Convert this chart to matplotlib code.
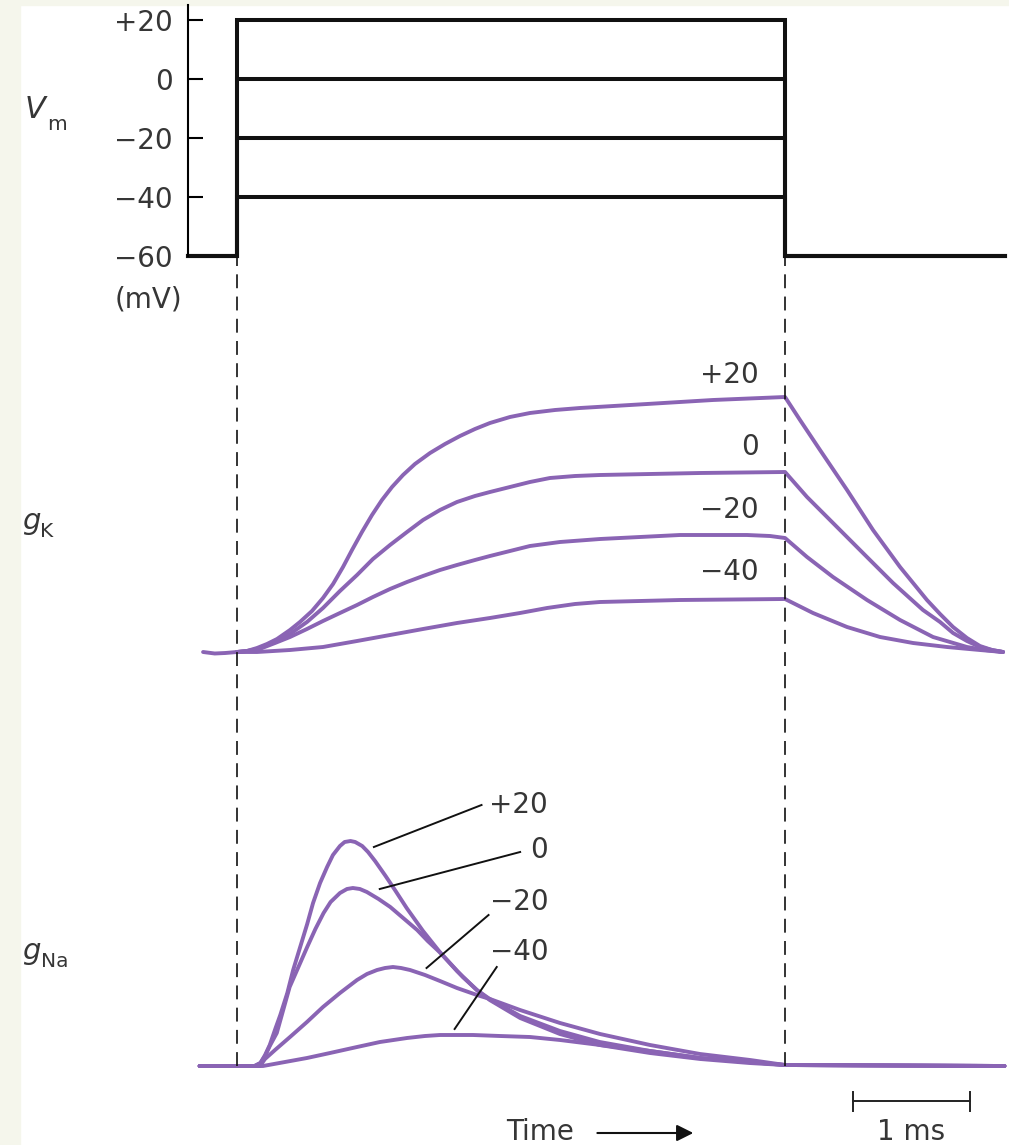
import numpy as np
import matplotlib
matplotlib.use('Agg')
import matplotlib.pyplot as plt
from matplotlib.patches import Rectangle

plt.rcParams.update({
    'font.family': ['DejaVu Sans'],
    'font.size': 20, 'lines.scale_dashes': False,
})

W, H = 1009, 1145
PURPLE = '#8a64b4'
INK = '#363636'
FS = 20

# ---- voltage-clamp protocol (ms, mV) ----
T_ON, T_OFF = 0.0, 4.684
T_START, T_END = -0.42, 6.56
V_HOLD = -60
V_STEPS = [20, 0, -20, -40]
V_TICKS = [20, 0, -20, -40, -60]
V_TICKLABELS = ['+20', '0', '\u221220', '\u221240', '\u221260']
STEP_LABELS = ['+20', '0', '\u221220', '\u221240']

# ---- gK traces (ms, arbitrary units), one per step ----
GK_PRE_T = [-0.29, -0.19, -0.10, 0.0]
GK_PRE_G = [0.0, -0.15, -0.1, 0.0]
GK_T = {
    20:  [0, 0.085, 0.171, 0.256, 0.342, 0.453, 0.538, 0.641, 0.735, 0.821, 0.906, 0.983, 1.068, 1.154, 1.239,
          1.325, 1.419, 1.521, 1.650, 1.778, 1.906, 2.034, 2.162, 2.333, 2.504, 2.718, 2.932, 3.504, 4.068, 4.684,
          4.812, 4.983, 5.214, 5.436, 5.667, 5.897, 6.009, 6.120, 6.239, 6.350, 6.453, 6.547],
    0:   [0, 0.085, 0.171, 0.282, 0.453, 0.598, 0.735, 0.880, 1.026, 1.162, 1.308, 1.453, 1.590, 1.735, 1.880,
          2.034, 2.162, 2.333, 2.504, 2.675, 2.889, 3.103, 3.957, 4.684,
          4.872, 5.094, 5.350, 5.607, 5.863, 6.009, 6.120, 6.239, 6.350, 6.453, 6.547],
    -20: [0, 0.171, 0.325, 0.453, 0.598, 0.735, 0.880, 1.026, 1.162, 1.308, 1.453, 1.590, 1.735, 1.880, 2.034,
          2.162, 2.333, 2.504, 2.761, 3.103, 3.444, 3.786, 4.359, 4.556, 4.684,
          4.872, 5.094, 5.385, 5.667, 5.949, 6.239, 6.393, 6.547],
    -40: [0, 0.171, 0.453, 0.735, 1.026, 1.308, 1.590, 1.880, 2.162, 2.419, 2.650, 2.889, 3.103, 3.444, 3.786, 4.684,
          4.923, 5.214, 5.496, 5.778, 6.068, 6.350, 6.547],
}
GK_G = {
    20:  [0, 0.1, 0.4, 0.8, 1.3, 2.2, 3.0, 4.1, 5.4, 6.8, 8.5, 10.2, 12.0, 13.7, 15.2,
          16.5, 17.7, 18.8, 19.9, 20.8, 21.6, 22.3, 22.9, 23.5, 23.9, 24.2, 24.4, 24.8, 25.2, 25.5,
          23.2, 20.2, 16.2, 12.2, 8.5, 5.2, 3.8, 2.5, 1.4, 0.6, 0.2, 0.0],
    0:   [0, 0.1, 0.3, 0.8, 1.8, 3.0, 4.4, 6.1, 7.7, 9.3, 10.7, 12.0, 13.2, 14.2, 15.0,
          15.6, 16.0, 16.5, 17.0, 17.4, 17.6, 17.7, 17.9, 18.0,
          15.5, 12.9, 9.9, 6.9, 4.2, 3.0, 1.9, 1.1, 0.5, 0.2, 0.0],
    -20: [0, 0.2, 0.9, 1.5, 2.3, 3.1, 3.9, 4.7, 5.5, 6.3, 7.0, 7.6, 8.2, 8.7, 9.2,
          9.6, 10.1, 10.6, 11.0, 11.3, 11.5, 11.7, 11.7, 11.6, 11.4,
          9.5, 7.5, 5.2, 3.2, 1.5, 0.5, 0.2, 0.0],
    -40: [0, 0, 0.2, 0.5, 1.1, 1.7, 2.3, 2.9, 3.4, 3.9, 4.4, 4.8, 5.0, 5.1, 5.2, 5.3,
          3.9, 2.5, 1.5, 0.9, 0.5, 0.2, 0.0],
}

# ---- gNa traces ----
GNA_T = {
    20:  [-0.32, 0.15, 0.20, 0.24, 0.28, 0.33, 0.37, 0.43, 0.48, 0.54, 0.60, 0.65, 0.71, 0.77, 0.82, 0.88, 0.92,
          0.97, 1.01, 1.07, 1.12, 1.18, 1.27, 1.35, 1.45, 1.59, 1.74, 1.88, 2.05, 2.16, 2.42, 2.76, 3.10, 3.53,
          3.96, 4.38, 4.68, 6.56],
    0:   [-0.32, 0.15, 0.20, 0.24, 0.28, 0.34, 0.45, 0.54, 0.60, 0.67, 0.74, 0.80, 0.88, 0.94, 0.99, 1.05, 1.11,
          1.21, 1.31, 1.42, 1.54, 1.63, 1.74, 1.93, 2.05, 2.16, 2.42, 2.76, 3.10, 3.53, 3.96, 4.38, 4.68, 6.56],
    -20: [-0.32, 0.197, 0.239, 0.325, 0.453, 0.598, 0.735, 0.880, 1.026, 1.111, 1.197, 1.265, 1.333, 1.402,
          1.479, 1.607, 1.735, 1.880, 2.051, 2.162, 2.419, 2.761, 3.103, 3.530, 3.957, 4.385, 4.684, 6.56],
    -40: [-0.32, 0.222, 0.410, 0.598, 0.795, 1.026, 1.222, 1.453, 1.607, 1.735, 2.017, 2.248, 2.504, 2.761,
          3.103, 3.530, 3.957, 4.385, 4.684, 6.56],
}
GNA_G = {
    20:  [0, 0, 0.3, 1.1, 2.1, 3.8, 5.1, 7.3, 9.6, 11.9, 14.2, 16.3, 18.3, 19.9, 21.1, 22.0, 22.4,
          22.5, 22.4, 22.0, 21.4, 20.5, 19.0, 17.6, 15.8, 13.5, 11.3, 9.5, 7.6, 6.6, 4.8, 3.2, 2.1, 1.3,
          0.7, 0.3, 0.1, 0],
    0:   [0, 0, 0.3, 1.0, 2.0, 3.3, 7.9, 10.3, 11.9, 13.7, 15.3, 16.4, 17.3, 17.7, 17.8, 17.7, 17.4,
          16.7, 15.9, 14.8, 13.6, 12.5, 11.3, 8.9, 7.6, 6.7, 5.0, 3.5, 2.4, 1.5, 0.8, 0.4, 0.1, 0],
    -20: [0, 0, 0.7, 1.6, 2.9, 4.4, 5.9, 7.3, 8.6, 9.2, 9.6, 9.8, 9.9, 9.8,
          9.6, 9.1, 8.5, 7.8, 7.1, 6.7, 5.6, 4.3, 3.2, 2.1, 1.2, 0.6, 0.1, 0],
    -40: [0, 0, 0.4, 0.8, 1.3, 1.9, 2.4, 2.8, 3.0, 3.1, 3.1, 3.0, 2.9, 2.6,
          2.1, 1.5, 0.8, 0.4, 0.1, 0],
}

fig = plt.figure(figsize=(W / 100, H / 100), dpi=100)
fig.patch.set_facecolor('white')
fig.patches.append(Rectangle((0, 0), 20 / W, 1, transform=fig.transFigure, color='#f5f6ec', zorder=-10))
fig.patches.append(Rectangle((0, 1 - 5 / H), 1, 5 / H, transform=fig.transFigure, color='#f5f6ec', zorder=-10))

XLIM = (-237 / 117, (W - 237) / 117)


def band(top, bottom):
    ax = fig.add_axes([0, 1 - bottom / H, 1, (bottom - top) / H])
    ax.set_xlim(*XLIM)
    ax.patch.set_alpha(0)
    return ax


# ---- Vm panel ----
axv = band(0, 300)
axv.set_ylim(-60 - 44 / 2.95, -60 + 256 / 2.95)
for s in ['top', 'right', 'bottom']:
    axv.spines[s].set_visible(False)
axv.spines['left'].set_position(('data', T_START))
axv.spines['left'].set_bounds(-60, 25)
axv.spines['left'].set_linewidth(1.5)
axv.set_xticks([])
axv.set_yticks(V_TICKS)
axv.set_yticklabels(V_TICKLABELS, color=INK)
axv.tick_params(axis='y', direction='in', length=11, width=1.5, pad=11, labelsize=FS)
for v in V_STEPS:
    axv.plot([T_START, T_ON, T_ON, T_OFF, T_OFF, T_END], [V_HOLD, V_HOLD, v, v, V_HOLD, V_HOLD],
             color='#111111', lw=2.9, solid_joinstyle='miter', clip_on=False)
fig.text(148 / W, 1 - 300 / H, '(mV)', ha='center', va='center', color=INK, fontsize=FS)

# ---- gK panel ----
axk = band(330, 690)
axk.set_ylim(-3.8, 32.2)
axk.axis('off')
axk.plot(GK_PRE_T, GK_PRE_G, color=PURPLE, lw=2.8, solid_capstyle='round')
for v in V_STEPS:
    axk.plot(GK_T[v], GK_G[v], color=PURPLE, lw=2.8, solid_capstyle='round', solid_joinstyle='round')
for lab, gy in zip(STEP_LABELS, [27.7, 20.5, 14.2, 8.0]):
    axk.text(4.46, gy, lab, ha='right', va='center', color=INK, fontsize=FS)

# ---- gNa panel ----
axn = band(760, 1145)
axn.set_ylim(-7.9, 30.6)
axn.axis('off')
for v in V_STEPS:
    axn.plot(GNA_T[v], GNA_G[v], color=PURPLE, lw=2.8, solid_capstyle='round', solid_joinstyle='round')
leaders = [((1.17, 21.9), (2.09, 26.1)), ((1.22, 17.7), (2.42, 21.4)),
           ((1.62, 9.8), (2.15, 15.1)), ((1.86, 3.7), (2.22, 9.9))]
for lab, gy, ((x0, y0), (x1, y1)) in zip(STEP_LABELS, [26.1, 21.6, 16.4, 11.4], leaders):
    axn.text(2.66, gy, lab, ha='right', va='center', color=INK, fontsize=FS)
    axn.plot([x0, x1], [y0, y1], color='#111111', lw=1.4)

# scale bar and time arrow
BAR_T0 = 5.265
axn.plot([BAR_T0, BAR_T0 + 1.0], [-3.5, -3.5], color='#222222', lw=1.4, clip_on=False)
for xb in [BAR_T0, BAR_T0 + 1.0]:
    axn.plot([xb, xb], [-2.6, -4.5], color='#222222', lw=1.4, clip_on=False)
axn.text(BAR_T0 + 0.5, -6.6, '1 ms', ha='center', va='center', color=INK, fontsize=FS)
axn.text(2.59, -6.6, 'Time', ha='center', va='center', color=INK, fontsize=FS)
axn.annotate('', xy=(3.90, -6.7), xytext=(3.08, -6.7),
             arrowprops=dict(arrowstyle='-|>', lw=1.5, color='#111111', mutation_scale=25,
                             shrinkA=0, shrinkB=0), annotation_clip=False)

# ---- dashed step markers ----
axd = band(256, 1066)
axd.set_ylim(0, 1)
axd.axis('off')
for tx in [T_ON, T_OFF]:
    axd.axvline(tx, color='#111111', lw=1.2, dashes=(10, 6), zorder=5)

# ---- left labels ----
fig.text(25 / W, 1 - 118 / H, 'V', style='italic', color=INK, fontsize=22, va='baseline')
fig.text(47 / W, 1 - 130 / H, 'm', color=INK, fontsize=14.5, va='baseline')
fig.text(22 / W, 1 - 529 / H, 'g', style='italic', color=INK, fontsize=21, va='baseline')
fig.text(40 / W, 1 - 537 / H, 'K', color=INK, fontsize=14.5, va='baseline')
fig.text(22 / W, 1 - 959 / H, 'g', style='italic', color=INK, fontsize=21, va='baseline')
fig.text(41 / W, 1 - 967 / H, 'Na', color=INK, fontsize=14.5, va='baseline')

fig.savefig('out.png', dpi=100, facecolor=fig.get_facecolor())
